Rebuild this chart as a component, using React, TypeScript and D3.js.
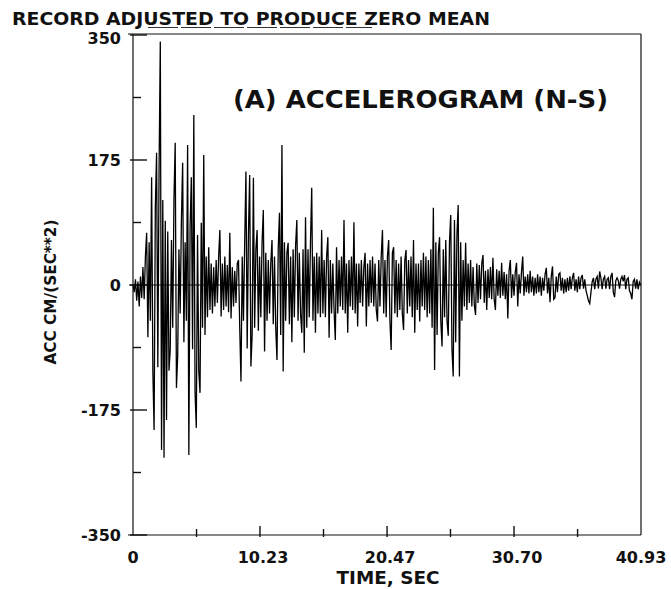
import React, { useEffect } from "react";
import * as d3 from "d3";

// Sample interval of the digitised record (seconds)
const DT = 0.1;
const DURATION = 40.93;

// Acceleration values (cm/sec^2), one row per second
const acc: number[] = [
  0, -10, 8, -22, 5, -30, 12, -18, 25, -20,
  40, 73, -73, 60, -50, 151, -120, -203, 110, 185,
  -115, 160, 341, -231, 119, -242, 90, -189, 75, -120,
  -91, 63, -60, 120, 199, -144, -100, 50, -40, 90,
  171, -80, 60, -50, 196, -238, 80, 151, -90, 238,
  -150, -200, 70, -120, -151, 87, -60, 182, -70, 40,
  -45, 53, -35, 30, -40, 25, -30, 35, -25, 40,
  77, -44, 30, -35, 40, -30, 28, -38, 73, -47,
  25, -30, 20, -25, 30, 35, -60, -135, 40, -50,
  60, 159, -89, 70, 154, -114, -70, 150, -60, 50,
  77, -64, 40, -45, 60, 105, -93, 45, -50, 35,
  -40, 30, 63, -55, 40, -60, -105, 50, 101, -70,
  196, -121, 60, -50, 45, 59, -55, 40, -80, 50,
  -45, 55, 91, -50, 45, -40, -67, 50, -95, 95,
  -60, 50, -45, 60, 136, -50, 40, -67, 45, -40,
  40, -45, 77, -40, 35, -45, 40, 67, -74, 35,
  -40, 30, -35, -77, 53, -40, 35, -30, 40, -35,
  91, -40, 30, -67, 35, -30, 40, -35, 88, -40,
  30, -58, 30, -25, 35, -30, 25, 45, -58, 30,
  -30, 35, -25, 40, -30, 30, -35, -51, 35, -30,
  40, 77, -40, 35, -45, 40, 63, -50, -91, 45,
  53, -40, 35, -45, 30, -35, 40, -40, -63, 35,
  49, -40, 35, -30, 40, -45, 63, -67, 30, -35,
  30, -51, 35, -30, 45, -35, 40, -45, 35, -40,
  50, -60, 108, -119, 60, -70, 45, 67, -50, -86,
  50, -45, 63, -50, -71, 60, 98, -90, -128, 91,
  -80, 70, 112, -128, 60, -50, 35, -30, 59, -35,
  30, -25, 35, -30, 25, -28, -42, 30, -25, 28,
  -20, 30, 42, -25, 20, -35, 22, -18, 25, -20,
  38, -20, -35, 22, -15, 20, -18, 31, -15, 18,
  -20, 15, -47, 20, 35, -18, 15, -15, 18, 31,
  -30, 15, -12, 18, 40, -15, 12, -10, 15, -12,
  20, -10, 12, -15, 10, -12, 15, -10, 12, -15,
  10, -8, 15, 24, -12, 10, -24, 12, 26, -20,
  -18, 12, -10, 15, 17, -8, 10, -12, 8, -10,
  10, -8, 12, -6, 10, 17, -8, 8, -10, 12,
  -6, 10, 14, -5, 8, -8, -15, -22, -26, -10,
  5, 10, -6, 8, 12, -5, 19, 10, -6, 8,
  12, -5, 8, 10, -6, 12, 17, -10, -17, 6,
  10, 6, -5, 8, 12, 5, 14, -6, 8, 10,
  -8, -12, -20, 5, 8, -5, 8, -6, 4, 0,
];

const xTickValues = [0, 10.23, 20.47, 30.7, 40.93];
const xTickLabels = ["0", "10.23", "20.47", "30.70", "40.93"];
const xMinorTicks = [5.12, 15.35, 25.58, 35.82];
const yTickValues = [350, 175, 0, -175, -350];
const yTickLabels = ["350", "175", "0", "-175", "-350"];
const yMinorTicks = [262.5, 87.5, -87.5, -262.5];

const W = 671;
const H = 589;
const FONT = "'DejaVu Sans', Verdana, sans-serif";

export default function App() {
  useEffect(() => {
    document.body.style.margin = "0";
  }, []);

  const x = d3.scaleLinear().domain([0, DURATION]).range([133, 641]);
  const y = d3.scaleLinear().domain([-350, 350]).range([535, 35]);

  const line = d3
    .line<number>()
    .x((_, i) => x(i * DT))
    .y((d) => y(d));

  const x0 = x(0);
  const x1 = x(DURATION);
  const yTop = y(350);
  const yBot = y(-350);

  return (
    <svg width={W} height={H} style={{ display: "block", background: "#fff" }}>
      {/* header */}
      <text
        x={12}
        y={24.5}
        fontFamily={FONT}
        fontWeight="bold"
        fontSize={17}
        textLength={478}
        lengthAdjust="spacingAndGlyphs"
        fill="#111"
      >
        RECORD ADJUSTED TO PRODUCE ZERO MEAN
      </text>
      <line x1={148} x2={372} y1={27.5} y2={27.5} stroke="#333" strokeWidth={1} strokeDasharray="30 3" />

      {/* frame */}
      <g stroke="#111" strokeWidth={1.2} fill="none">
        <line x1={x0 - 5} x2={x1} y1={yTop - 1} y2={yTop - 1} />
        <line x1={x1} x2={x1} y1={yTop - 1} y2={yBot} />
        <line x1={x0 - 5} x2={x1} y1={yBot} y2={yBot} />
        <line x1={x0} x2={x0} y1={yTop - 1} y2={yBot} />
      </g>

      {/* y ticks */}
      <g stroke="#111" strokeWidth={1.4}>
        {yTickValues.map((v) => (
          <line key={"ym" + v} x1={x0 - 3} x2={x0 + 14} y1={y(v)} y2={y(v)} />
        ))}
        {yMinorTicks.map((v) => (
          <line key={"yn" + v} x1={x0} x2={x0 + 8} y1={y(v)} y2={y(v)} />
        ))}
      </g>
      {/* x ticks */}
      <g stroke="#111" strokeWidth={1.4}>
        {xTickValues.slice(1, 4).map((v) => (
          <line key={"xm" + v} x1={x(v)} x2={x(v)} y1={yBot + 2} y2={yBot - 9} />
        ))}
        {xMinorTicks.map((v) => (
          <line key={"xn" + v} x1={x(v)} x2={x(v)} y1={yBot + 2} y2={yBot - 6} />
        ))}
      </g>

      {/* zero line */}
      <line x1={x0 - 4} x2={x1} y1={y(0)} y2={y(0)} stroke="#111" strokeWidth={1.2} />

      {/* trace */}
      <path d={line(acc) || ""} fill="none" stroke="#000" strokeWidth={1.3} strokeLinejoin="miter" />

      {/* y tick labels */}
      {yTickValues.map((v, i) => (
        <text
          key={"yl" + v}
          x={121}
          y={v === 350 ? y(v) + 3 : y(v)}
          dy="0.36em"
          textAnchor="end"
          fontFamily={FONT}
          fontWeight="bold"
          fontSize={16}
          fill="#111"
        >
          {yTickLabels[i]}
        </text>
      ))}

      {/* x tick labels */}
      {xTickValues.map((v, i) => (
        <text
          key={"xl" + v}
          x={x(v) + (i > 0 && i < 4 ? 3 : 0)}
          y={563}
          textAnchor="middle"
          fontFamily={FONT}
          fontWeight="bold"
          fontSize={16}
          fill="#111"
        >
          {xTickLabels[i]}
        </text>
      ))}

      {/* axis titles */}
      <text
        x={388}
        y={584}
        textAnchor="middle"
        fontFamily={FONT}
        fontWeight="bold"
        fontSize={17}
        textLength={103}
        lengthAdjust="spacingAndGlyphs"
        fill="#111"
      >
        TIME, SEC
      </text>
      <text
        transform={`translate(56, 292) rotate(-90)`}
        textAnchor="middle"
        fontFamily={FONT}
        fontWeight="bold"
        fontSize={15}
        textLength={145}
        lengthAdjust="spacingAndGlyphs"
        fill="#111"
      >
        ACC CM/(SEC**2)
      </text>

      {/* panel title */}
      <text
        x={233}
        y={108}
        fontFamily={FONT}
        fontWeight="bold"
        fontSize={24}
        textLength={375}
        lengthAdjust="spacingAndGlyphs"
        fill="#111"
      >
        (A) ACCELEROGRAM (N-S)
      </text>
    </svg>
  );
}
